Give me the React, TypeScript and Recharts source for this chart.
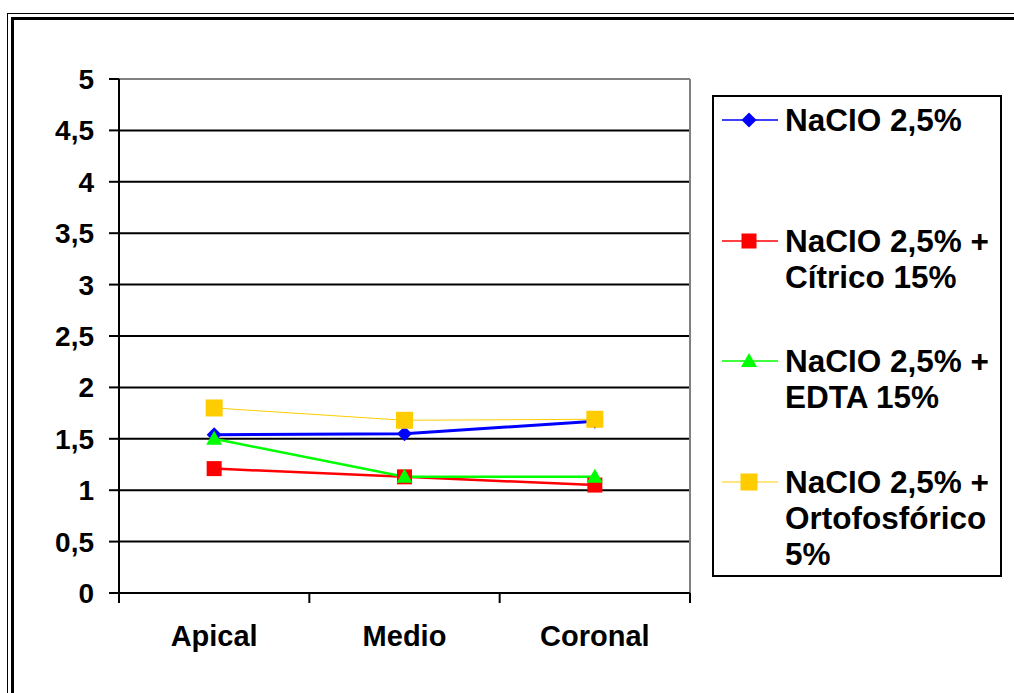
import { LineChart, Line, XAxis, YAxis, CartesianGrid, Legend, ReferenceLine } from "recharts";

const categories = ["Apical", "Medio", "Coronal"];
const naclo = [1.54, 1.55, 1.67];
const citrico = [1.21, 1.13, 1.05];
const edta = [1.5, 1.13, 1.13];
const ortofosforico = [1.8, 1.68, 1.69];
const yTicks = [0, 0.5, 1, 1.5, 2, 2.5, 3, 3.5, 4, 4.5, 5];
// marcas entre categorías (0,1,2,3) y etiquetas en el centro (0.5,1.5,2.5)
const xTicks = [0, 0.5, 1, 1.5, 2, 2.5, 3];

const FONT = "'Liberation Sans', Arial, sans-serif";

type Shape = "diamond" | "square" | "bigSquare" | "triangle";

const series: { key: string; name: string; color: string; width: number; legendWidth: number; shape: Shape }[] = [
  { key: "naclo", name: "NaCIO 2,5%", color: "#0000FF", width: 3, legendWidth: 1.5, shape: "diamond" },
  { key: "citrico", name: "NaCIO 2,5% + Cítrico 15%", color: "#FF0000", width: 2.5, legendWidth: 1.5, shape: "square" },
  { key: "edta", name: "NaCIO 2,5% + EDTA 15%", color: "#00FF00", width: 2.5, legendWidth: 1.5, shape: "triangle" },
  { key: "orto", name: "NaCIO 2,5% + Ortofosfórico 5%", color: "#FFCC00", width: 1, legendWidth: 1, shape: "bigSquare" },
];

const data = categories.map((name, i) => ({
  name,
  pos: i + 0.5,
  naclo: naclo[i],
  citrico: citrico[i],
  edta: edta[i],
  orto: ortofosforico[i],
}));

// marcador de cada serie (mismo dibujo en el gráfico y en la leyenda)
function marker(shape: Shape, cx: number, cy: number, color: string, key?: string) {
  if (shape === "diamond") {
    return <path key={key} d={`M${cx},${cy - 7.5}L${cx + 7.5},${cy}L${cx},${cy + 7.5}L${cx - 7.5},${cy}Z`} fill={color} />;
  }
  if (shape === "triangle") {
    return <path key={key} d={`M${cx},${cy - 8}L${cx + 8},${cy + 6}L${cx - 8},${cy + 6}Z`} fill={color} />;
  }
  const s = shape === "bigSquare" ? 17 : 15;
  return <rect key={key} x={cx - s / 2} y={cy - s / 2} width={s} height={s} fill={color} />;
}

const fmt = (v: number) => String(v).replace(".", ",");

const XTick = (props: any) => {
  const { x, y, payload } = props;
  const v = payload.value;
  if (Number.isInteger(v)) {
    return <line x1={x} x2={x} y1={y} y2={y + 10} stroke="#000" strokeWidth={2} />;
  }
  return (
    <text x={x} y={y + 53} textAnchor="middle" fill="#000" fontSize={29} fontWeight="bold" fontFamily={FONT}>
      {categories[Math.floor(v)]}
    </text>
  );
};

const renderLegend = (props: any) => {
  const payload = props.payload || [];
  return (
    <div
      style={{
        boxSizing: "border-box",
        width: 290,
        height: 482,
        border: "2px solid #000",
        background: "#fff",
        paddingTop: 5,
        fontFamily: FONT,
      }}
    >
      {payload.map((entry: any) => {
        const s = series.find((x) => x.key === entry.dataKey) || series[0];
        return (
          <div key={s.key} style={{ display: "flex", height: 120.5, alignItems: "flex-start" }}>
            <svg width={56} height={36} style={{ marginLeft: 8, flex: "none" }}>
              <line x1={0} x2={56} y1={18} y2={18} stroke={s.color} strokeWidth={s.legendWidth} />
              {marker(s.shape, 27, 18, s.color)}
            </svg>
            <div style={{ marginLeft: 7, width: 212, fontSize: 31.5, lineHeight: "36px", fontWeight: "bold", color: "#000" }}>
              {entry.value}
            </div>
          </div>
        );
      })}
    </div>
  );
};

export default function App() {
  return (
    <div style={{ position: "absolute", left: 0, top: 0, width: 1014, height: 693, overflow: "hidden", background: "#fff" }}>
      {/* marco doble */}
      <div style={{ position: "absolute", left: 7, top: 13, width: 1100, height: 800, border: "1.5px solid #000" }} />
      <div style={{ position: "absolute", left: 11, top: 17, width: 1100, height: 800, border: "3.5px solid #000" }} />
      <div style={{ position: "absolute", left: 0, top: 0 }}>
        <LineChart width={1014} height={693} data={data} margin={{ top: 79, right: 324, bottom: 0, left: 0 }}>
          <CartesianGrid
            vertical={false}
            horizontalValues={yTicks.filter((v) => v > 0 && v < 5)}
            stroke="#000"
            strokeWidth={2}
          />
          <XAxis
            dataKey="pos"
            type="number"
            domain={[0, 3]}
            ticks={xTicks}
            interval={0}
            height={100}
            axisLine={{ stroke: "#000", strokeWidth: 2 }}
            tickLine={false}
            tickSize={0}
            tickMargin={0}
            tick={<XTick />}
          />
          <YAxis
            domain={[0, 5]}
            ticks={yTicks}
            width={119}
            tickFormatter={fmt}
            axisLine={{ stroke: "#000", strokeWidth: 2 }}
            tickLine={{ stroke: "#000", strokeWidth: 2 }}
            tickSize={10}
            tickMargin={15}
            tick={{ fill: "#000", fontSize: 28, fontWeight: "bold", fontFamily: FONT }}
          />
          <ReferenceLine y={5} stroke="#808080" strokeWidth={2} />
          <ReferenceLine x={3} stroke="#808080" strokeWidth={2} />
          <Legend
            layout="horizontal"
            verticalAlign="middle"
            align="center"
            width={290}
            height={482}
            wrapperStyle={{ left: 712, top: 95, width: 290, height: 482 }}
            content={renderLegend}
          />
          {series.map((s) => (
            <Line
              key={s.key}
              dataKey={s.key}
              name={s.name}
              stroke={s.color}
              strokeWidth={s.width}
              isAnimationActive={false}
              activeDot={false}
              dot={(p: any) => marker(s.shape, p.cx, p.cy, s.color, `${s.key}-${p.index}`)}
            />
          ))}
        </LineChart>
      </div>
    </div>
  );
}
